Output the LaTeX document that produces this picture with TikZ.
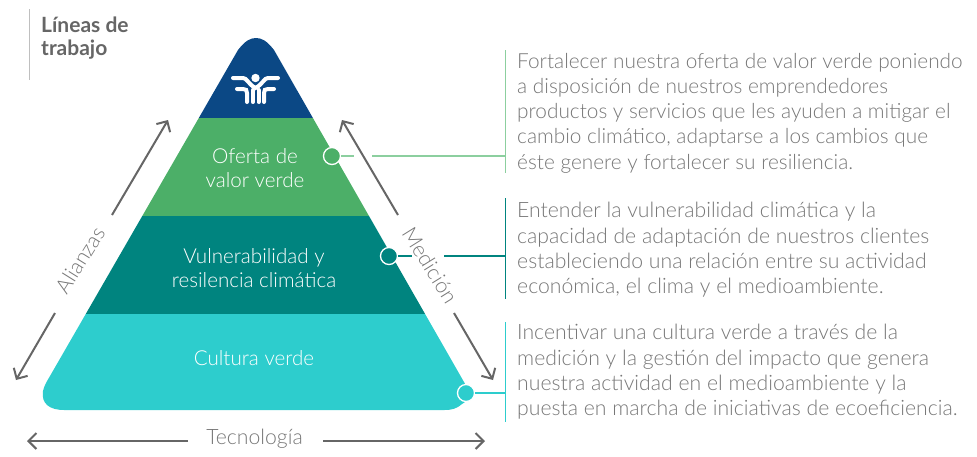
\documentclass[tikz,border=0pt]{standalone}
\usepackage{fontspec}
\setmainfont{Lato Light}
\newfontfamily\boldlato{Lato}[BoldFont={Lato Bold}]
\usetikzlibrary{arrows.meta}
\definecolor{navy}{HTML}{0B4885}
\definecolor{leaf}{HTML}{4CAF68}
\definecolor{deep}{HTML}{00847F}
\definecolor{aqua}{HTML}{2DCDCD}
\definecolor{leafline}{HTML}{8CCF9F}
\definecolor{ink}{HTML}{777777}
\definecolor{arrowgrey}{HTML}{666666}
\tikzset{
  bodytext/.style={text=ink,font=\fontsize{20.8}{25.3}\selectfont,align=left,anchor=west,inner sep=0pt},
  bodytextb/.style={bodytext,font=\fontsize{21.2}{25.3}\selectfont},
  bandtext/.style={text=white,font=\fontsize{20.6}{24.5}\selectfont,align=center,inner sep=0pt},
  sidetext/.style={text=ink,font=\fontsize{21.2}{24}\selectfont,inner sep=0pt},
  sidearrow/.style={draw=arrowgrey,line width=2pt,-{Straight Barb[length=8pt,width=16pt,line width=2pt]}},
  dot/.style={circle,draw=white,line width=1.3pt,minimum size=17pt,inner sep=0pt},
  logoline/.style={draw=white,line width=4pt,line cap=round}
}
\begin{document}
\begin{tikzpicture}[x=1pt,y=-1pt]
\useasboundingbox (0,0) rectangle (977,456);
% pyramid
\begin{scope}
\clip (238,50) .. controls (245,41) and (250,38) .. (256,38)
  .. controls (262,38) and (267,41) .. (274,50)
  -- (464,382) .. controls (472,396) and (470,399) .. (462,404)
  .. controls (456,409) and (452,410) .. (444,410)
  -- (64,410) .. controls (50,410) and (41,404) .. (43,391)
  .. controls (44,386) and (47,381) .. (50,376) -- cycle;
\fill[navy] (0,30) rectangle (500,118);
\fill[leaf] (0,118) rectangle (500,216);
\fill[deep] (0,216) rectangle (500,314);
\fill[aqua] (0,314) rectangle (500,412);
\end{scope}
% logo
\fill[white] (255.5,78) circle (4.2);
\draw[logoline] (233,78) -- (243,78) .. controls (247,78) and (248,84) .. (255.5,88) .. controls (263,84) and (264,78) .. (268,78) -- (278,78);
\draw[logoline] (237,89) -- (243,89) .. controls (246,89) and (247,90) .. (247,93) -- (247,102);
\draw[logoline] (274,89) -- (268,89) .. controls (265,89) and (264,90) .. (264,93) -- (264,102);
\draw[logoline] (252.8,90) -- (252.8,102);
\draw[logoline] (258.6,90) -- (258.6,102);
% labels in the bands
\node[bandtext] (oferta) at (255,168) {Oferta de\\valor verde};
\node[bandtext] (vulne) at (254,268) {Vulnerabilidad y\\resilencia climática};
\node[bandtext] (cultura) at (254,358) {Cultura verde};
% heading
\draw[gray!50,line width=1pt] (29.5,9) -- (29.5,80);
\node[text=arrowgrey,font=\boldlato\bfseries\fontsize{21}{22.5}\selectfont,align=left,anchor=north west,inner sep=0pt] (head) at (41,17) {Líneas de\\trabajo};
% side labels
\node[sidetext,rotate=58] (alianzas) at (80,260) {Alianzas};
\node[sidetext,rotate=-58] (medicion) at (430,265) {Medición};
\node[sidetext] (tecno) at (254.5,439) {Tecnología};
% side arrows
\coordinate (a1) at (112,215); \coordinate (a2) at (168,120);
\coordinate (a3) at (55,313);  \coordinate (a4) at (16,380);
\coordinate (m1) at (398,215); \coordinate (m2) at (342,120);
\coordinate (m3) at (454,313); \coordinate (m4) at (493,380);
\coordinate (t1) at (188,441); \coordinate (t2) at (27,441);
\coordinate (t3) at (323,441); \coordinate (t4) at (485,441);
\draw[sidearrow] (a1) -- (a2);
\draw[sidearrow] (a3) -- (a4);
\draw[sidearrow] (m1) -- (m2);
\draw[sidearrow] (m3) -- (m4);
\draw[sidearrow] (t1) -- (t2);
\draw[sidearrow] (t3) -- (t4);
% vertical rules
\coordinate (b1t) at (505.5,50);  \coordinate (b1b) at (505.5,173);  \coordinate (b1m) at (505.5,156);
\coordinate (b2t) at (505.5,198); \coordinate (b2b) at (505.5,299);  \coordinate (b2m) at (505.5,256);
\coordinate (b3t) at (505.5,322); \coordinate (b3b) at (505.5,422);  \coordinate (b3m) at (505.5,393);
\draw[leafline,line width=1.6pt] (b1t) -- (b1b);
\draw[deep,line width=1.3pt] (b2t) -- (b2b);
\draw[aqua,line width=1.3pt] (b3t) -- (b3b);
% dots and leaders
\node[dot,fill=leaf] (d1) at (332,156) {};
\node[dot,fill=deep] (d2) at (389,256) {};
\node[dot,fill=aqua] (d3) at (466,393) {};
\coordinate (g1a) at (354,156); \coordinate (g1b) at (372,156);
\coordinate (g2a) at (412,256); \coordinate (g2b) at (444,256);
\draw[leafline,line width=1.4pt] (d1) -- (g1a) (g1b) -- (b1m);
\draw[deep,line width=1.3pt] (d2) -- (g2a) (g2b) -- (b2m);
\draw[aqua,line width=1.3pt] (d3) -- (b3m);
% body text
\node[bodytext] (t1x) at (517,113) {Fortalecer nuestra oferta de valor verde poniendo\\a disposición de nuestros emprendedores\\productos y servicios que les ayuden a mitigar el\\cambio climático, adaptarse a los cambios que\\éste genere y fortalecer su resiliencia.};
\node[bodytextb] (t2x) at (517,250) {Entender la vulnerabilidad climática y la\\capacidad de adaptación de nuestros clientes\\estableciendo una relación entre su actividad\\económica, el clima y el medioambiente.};
\node[bodytextb] (t3x) at (517,372) {Incentivar una cultura verde a través de la\\medición y la gestión del impacto que genera\\nuestra actividad en el medioambiente y la\\puesta en marcha de iniciativas de ecoeficiencia.};
\end{tikzpicture}
\end{document}
